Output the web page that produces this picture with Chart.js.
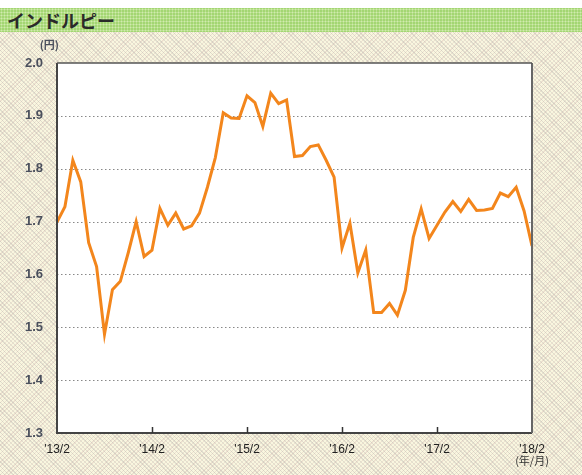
<!DOCTYPE html>
<html>
<head>
<meta charset="utf-8">
<script src="https://cdn.jsdelivr.net/npm/chart.js@4"></script>
<style>
  body { margin: 0; }
  #wrap {
    position: relative; width: 582px; height: 475px; overflow: hidden;
    background-color: #f9f6df;
    background-image:
      repeating-linear-gradient(45deg, rgba(160,160,160,.28) 0 1px, transparent 1px 3px),
      repeating-linear-gradient(-45deg, rgba(200,160,160,.25) 0 1px, transparent 1px 3px);
  }
  #band {
    position: absolute; left: 0; top: 0; width: 582px; height: 8px; background: #fff;
  }
  #title {
    position: absolute; left: 0; top: 8px; width: 582px; height: 24px;
    background-color: #a3d672;
    background-image: radial-gradient(circle, rgba(220,240,190,.8) 0.8px, transparent 1.2px);
    background-size: 3px 3px;
    font-family: "Noto Sans CJK JP", sans-serif; font-weight: bold; font-size: 18px;
    color: #2a2a2a; line-height: 24px; padding-left: 7px; box-sizing: border-box;
  }
  canvas { position: absolute; left: 0; top: 0; }
</style>
</head>
<body>
<div id="wrap">
  <div id="band"></div>
  <div id="title">インドルピー</div>
  <canvas id="c" width="582" height="475"></canvas>
</div>
<script>
// 月次データ 2013/2 〜 2018/2
const months = [];
for (let y = 13; y <= 18; y++) {
  for (let m = 1; m <= 12; m++) {
    if ((y === 13 && m < 2) || (y === 18 && m > 2)) continue;
    months.push("'" + y + "/" + m);
  }
}
const rates = [
  1.699, 1.728, 1.816, 1.775, 1.660, 1.615, 1.487, 1.571, 1.587, 1.641, 1.700, 1.634,
  1.646, 1.725, 1.693, 1.716, 1.686, 1.692, 1.716, 1.765, 1.821, 1.906, 1.896, 1.895,
  1.938, 1.925, 1.880, 1.943, 1.923, 1.930, 1.823, 1.825, 1.842, 1.845, 1.816, 1.784,
  1.650, 1.697, 1.603, 1.646, 1.528, 1.528, 1.545, 1.523, 1.570, 1.670, 1.724, 1.668,
  1.693, 1.718, 1.738, 1.719, 1.742, 1.721, 1.722, 1.725, 1.754, 1.747, 1.765, 1.720,
  1.654
];
const yTicks = [1.3, 1.4, 1.5, 1.6, 1.7, 1.8, 1.9, 2.0];

const framePlugin = {
  id: 'frame',
  beforeDatasetsDraw(chart) {
    const { ctx, chartArea: a } = chart;
    ctx.save();
    ctx.fillStyle = '#fff';
    ctx.fillRect(a.left, a.top, a.right - a.left, a.bottom - a.top);
    // 目盛り線
    ctx.setLineDash([1.5, 2.5]);
    ctx.strokeStyle = '#888';
    ctx.lineWidth = 1;
    const ys = chart.scales.y;
    yTicks.slice(1, -1).forEach(v => {
      const py = Math.round(ys.getPixelForValue(v)) + 0.5;
      ctx.beginPath(); ctx.moveTo(a.left, py); ctx.lineTo(a.right, py); ctx.stroke();
    });
    ctx.restore();
  },
  afterDatasetsDraw(chart) {
    const { ctx, chartArea: a } = chart;
    const xs = chart.scales.x;
    ctx.save();
    ctx.strokeStyle = '#444';
    ctx.lineWidth = 2;
    ctx.beginPath();
    ctx.moveTo(a.left, a.top); ctx.lineTo(a.left, a.bottom); ctx.lineTo(a.right, a.bottom);
    ctx.stroke();
    ctx.strokeStyle = '#666';
    ctx.beginPath(); ctx.moveTo(a.right, a.bottom); ctx.lineTo(a.right, a.top); ctx.stroke();
    ctx.lineWidth = 1.5;
    ctx.strokeStyle = '#555';
    ctx.beginPath(); ctx.moveTo(a.left, a.top); ctx.lineTo(a.right, a.top); ctx.stroke();
    // 年ごとの目盛り
    ctx.lineWidth = 1.5;
    ctx.strokeStyle = '#333';
    for (let i = 12; i < months.length - 1; i += 12) {
      const px = Math.round(xs.getPixelForValue(i)) + 0.5;
      ctx.beginPath(); ctx.moveTo(px, a.bottom); ctx.lineTo(px, a.bottom - 6); ctx.stroke();
    }
    // 単位
    ctx.fillStyle = '#4a4f5c';
    ctx.font = 'bold 11px "Noto Sans CJK JP"';
    ctx.textAlign = 'right';
    ctx.textBaseline = 'middle';
    ctx.fillText('(円)', 59, 45);
    ctx.fillStyle = '#333';
    ctx.font = '11px "Noto Sans CJK JP"';
    ctx.textAlign = 'center';
    ctx.fillText('(年/月)', 532, 461);
    ctx.restore();
  }
};

new Chart(document.getElementById('c').getContext('2d'), {
  type: 'line',
  data: {
    labels: months,
    datasets: [{
      data: rates,
      borderColor: '#f3861c',
      borderWidth: 3,
      pointRadius: 0,
      tension: 0,
      fill: false
    }]
  },
  options: {
    responsive: false,
    animation: false,
    layout: { padding: { left: 0, top: 63, right: 50, bottom: 0 } },
    plugins: { legend: { display: false }, tooltip: { enabled: false } },
    scales: {
      x: {
        offset: false,
        grid: { display: false },
        border: { display: false },
        afterFit: s => { s.height = 42; },
        ticks: {
          autoSkip: false,
          maxRotation: 0,
          padding: 1,
          color: '#222',
          font: { family: 'Liberation Sans', size: 12 },
          callback: (v, i) => (i % 12 === 0 ? months[i] : '')
        }
      },
      y: {
        min: 1.3,
        max: 2.0,
        grid: { display: false },
        border: { display: false },
        afterFit: s => { s.width = 57; },
        afterBuildTicks: s => { s.ticks = yTicks.map(v => ({ value: v })); },
        ticks: {
          padding: 6,
          color: '#4a4f5c',
          font: { family: 'Liberation Sans', size: 13, weight: 'bold' },
          callback: v => v.toFixed(1)
        }
      }
    }
  },
  plugins: [framePlugin]
});
</script>
</body>
</html>
